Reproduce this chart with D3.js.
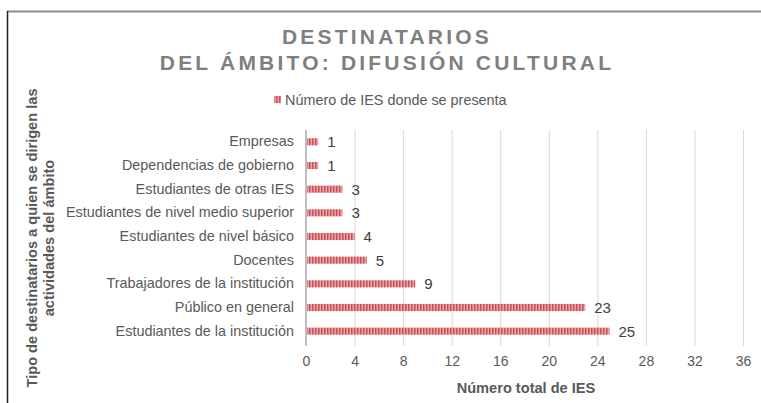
<!DOCTYPE html>
<meta charset="utf-8">
<head>
<style>
  body { margin: 0; background: #fff; }
  svg { display: block; font-family: Arial, "Liberation Sans", sans-serif; }
</style>
</head>
<body>
<div class="chart"></div>
<script src="https://d3js.org/d3.v7.min.js" charset="utf-8"></script>
<script>
const categories = [
  'Empresas',
  'Dependencias de gobierno',
  'Estudiantes de otras IES',
  'Estudiantes de nivel medio superior',
  'Estudiantes de nivel básico',
  'Docentes',
  'Trabajadores de la institución',
  'Público en general',
  'Estudiantes de la institución'
];
const values = [1, 1, 3, 3, 4, 5, 9, 23, 25];
const xTicks = [0, 4, 8, 12, 16, 20, 24, 28, 32, 36];
const seriesName = 'Número de IES donde se presenta';

const W = 761, H = 403;
const plot = { left: 306, right: 743, top: 130, bottom: 343 };

const svg = d3.select('.chart').append('svg')
  .attr('width', W)
  .attr('height', H);

// striped fill like the original
const defs = svg.append('defs');
const pat = defs.append('pattern')
  .attr('id', 'stripes')
  .attr('patternUnits', 'userSpaceOnUse')
  .attr('width', 3).attr('height', 4);
pat.append('rect').attr('width', 3).attr('height', 4).attr('fill', '#e9a7a9');
pat.append('rect').attr('width', 1.5).attr('height', 4).attr('fill', '#cc4d55');

// frame lines
svg.append('line').attr('x1', 7).attr('x2', W).attr('y1', 11.5).attr('y2', 11.5)
  .attr('stroke', '#8c8c8c').attr('stroke-width', 2);
svg.append('line').attr('x1', 7.5).attr('x2', 7.5).attr('y1', 11).attr('y2', H)
  .attr('stroke', '#222').attr('stroke-width', 1.5);

// title
const title = svg.append('text')
  .attr('text-anchor', 'middle')
  .attr('fill', '#7f7f7f')
  .style('font-size', '21px')
  .style('font-weight', 'bold')
  .style('letter-spacing', '3.2px');
title.append('tspan').attr('x', 387).attr('y', 44).text('DESTINATARIOS');
title.append('tspan').attr('x', 387).attr('y', 70).text('DEL ÁMBITO: DIFUSIÓN CULTURAL');

// legend
svg.append('rect').attr('x', 274).attr('y', 96).attr('width', 7).attr('height', 7)
  .attr('fill', 'url(#stripes)');
svg.append('text').attr('x', 285).attr('y', 105)
  .attr('fill', '#595959').style('font-size', '14.4px')
  .text(seriesName);

const x = d3.scaleLinear().domain([0, 36]).range([plot.left, plot.right]);
const y = d3.scaleBand().domain(categories).range([plot.top, plot.bottom]).paddingInner(0.7).paddingOuter(0.35);

// grid
svg.append('g').selectAll('line').data(xTicks.slice(1)).enter().append('line')
  .attr('x1', d => x(d) + 0.5).attr('x2', d => x(d) + 0.5)
  .attr('y1', plot.top).attr('y2', plot.bottom + 3)
  .attr('stroke', '#d9d9d9');

// x axis
const xAxis = d3.axisBottom(x).tickValues(xTicks).tickSize(0).tickPadding(13);
const gx = svg.append('g').attr('transform', `translate(0, ${plot.bottom})`).call(xAxis);
gx.select('.domain').remove();
gx.selectAll('text').attr('fill', '#595959').style('font-size', '14px')
  .style('font-family', 'Arial, "Liberation Sans", sans-serif');

// y axis
const yAxis = d3.axisLeft(y).tickSize(0).tickPadding(12);
const gy = svg.append('g').attr('transform', `translate(${plot.left}, 0)`).call(yAxis);
gy.select('.domain').remove();
gy.selectAll('text').attr('fill', '#595959').style('font-size', '14.4px')
  .style('font-family', 'Arial, "Liberation Sans", sans-serif');
svg.append('line').attr('x1', plot.left).attr('x2', plot.left)
  .attr('y1', plot.top).attr('y2', plot.bottom + 3)
  .attr('stroke', '#bfbfbf').attr('stroke-width', 2);

// bars
svg.selectAll('.bar').data(values).enter().append('rect')
  .attr('class', 'bar')
  .attr('x', plot.left + 1)
  .attr('y', (d, i) => y(categories[i]))
  .attr('width', d => x(d) - plot.left - 1)
  .attr('height', y.bandwidth())
  .attr('fill', 'url(#stripes)');

svg.selectAll('.val').data(values).enter().append('text')
  .attr('class', 'val')
  .attr('x', d => x(d) + 9)
  .attr('y', (d, i) => y(categories[i]) + y.bandwidth() / 2 + 5.5)
  .attr('fill', '#404040')
  .style('font-size', '15px')
  .text(d => d);

// axis titles
svg.append('text')
  .attr('x', 526).attr('y', 393)
  .attr('text-anchor', 'middle')
  .attr('fill', '#595959')
  .style('font-size', '14.6px').style('font-weight', 'bold')
  .text('Número total de IES');

const yt = svg.append('text')
  .attr('transform', 'translate(0, 238) rotate(-90)')
  .attr('text-anchor', 'middle')
  .attr('fill', '#595959')
  .style('font-size', '14.6px').style('font-weight', 'bold');
yt.append('tspan').attr('x', 0).attr('y', 37).text('Tipo de destinatarios a quien se dirigen las');
yt.append('tspan').attr('x', 0).attr('y', 54).text('actividades del ámbito');
</script>
</body>
